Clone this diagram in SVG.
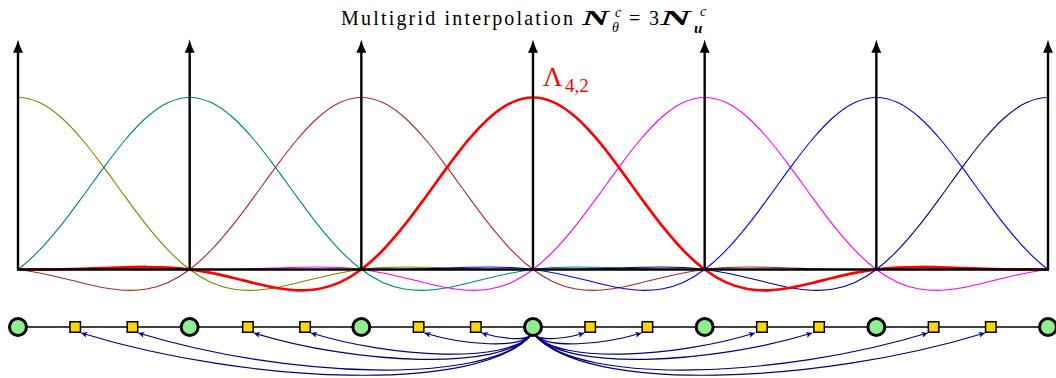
<svg xmlns="http://www.w3.org/2000/svg" width="1056" height="378" viewBox="0 0 1056 378">
<style>
.ax{stroke:#000;stroke-width:2.4;fill:none}
.ah{fill:#000}
.k{fill:none;stroke-width:1.1}
.kr{fill:none;stroke-width:2.7}
.ln{stroke:#000;stroke-width:1.3}
.cn{fill:#90EE90;stroke:#000;stroke-width:3}
.sq{fill:#FFD700;stroke:#000;stroke-width:1.5}
.ed{fill:none;stroke:#000080;stroke-width:1.2;marker-end:url(#m)}
.t{font-family:"Liberation Serif","DejaVu Serif",serif;fill:#000}
</style>
<defs>
<path id="kh" d="M0,-172 C7.15,-172 14.31,-170.19 21.46,-166.89 C28.61,-163.59 35.77,-158.41 42.92,-152.22 C50.07,-146.03 57.23,-138.10 64.38,-129.76 C71.53,-121.42 78.69,-111.70 85.84,-102.17 C92.99,-92.64 100.14,-82.25 107.29,-72.57 C114.44,-62.89 121.60,-52.96 128.75,-44.07 C135.90,-35.19 143.06,-26.61 150.21,-19.26 C157.36,-11.92 164.52,-5.36 171.67,0 C178.82,5.36 185.98,9.63 193.13,12.88 C200.28,16.13 207.44,18.17 214.59,19.49 C221.74,20.81 228.90,21.00 236.05,20.79 C243.20,20.58 250.36,19.46 257.51,18.25 C264.66,17.04 271.82,15.21 278.97,13.53 C286.12,11.86 293.28,9.88 300.43,8.20 C307.58,6.52 314.73,4.82 321.88,3.45 C329.03,2.08 336.19,0.90 343.34,0 C350.49,-0.90 357.65,-1.51 364.80,-1.93 C371.95,-2.35 379.11,-2.48 386.26,-2.52 C393.41,-2.57 400.57,-2.38 407.72,-2.20 C414.87,-2.03 422.03,-1.72 429.18,-1.47 C436.33,-1.23 443.49,-0.94 450.64,-0.73 C457.79,-0.53 464.95,-0.36 472.10,-0.24 C479.25,-0.12 486.40,-0.07 493.55,-0.03 C500.70,0.01 507.86,0 515.01,0"/>
<g id="ker"><use href="#kh"/><use href="#kh" transform="scale(-1,1)"/></g>
<path id="arr" d="M0,0 Q1.5,7 5,13.2 L-5,13.2 Q-1.5,7 0,0Z"/>
<marker id="m" viewBox="0 0 10 10" refX="10" refY="5" markerWidth="8" markerHeight="6" markerUnits="userSpaceOnUse" orient="auto"><path d="M0,0 L10,5 L0,10 L2.5,5Z" fill="#000080"/></marker>
<clipPath id="cp"><rect x="17" y="0" width="1032" height="300"/></clipPath>
</defs>
<rect width="1056" height="378" fill="#fff"/>

<g id="title" class="t">
<text font-size="20" x="341" y="25" textLength="232" lengthAdjust="spacing">Multigrid interpolation</text>
<text font-size="22" font-style="italic" font-weight="bold" x="582" y="25" textLength="27" lengthAdjust="spacingAndGlyphs">N</text>
<text font-size="14" font-style="italic" x="615" y="16.5">c</text>
<text font-size="14" font-style="italic" x="612" y="32">θ</text>
<text font-size="20" x="629" y="25">=</text>
<text font-size="20" x="649" y="25">3</text>
<text font-size="22" font-style="italic" font-weight="bold" x="660" y="25" textLength="31" lengthAdjust="spacingAndGlyphs">N</text>
<text font-size="14" font-style="italic" x="700" y="16">c</text>
<text font-size="15" font-style="italic" font-weight="bold" x="694" y="32.5">u</text>
</g>

<g id="kernels" clip-path="url(#cp)">
<use href="#ker" class="k" stroke="#808000" transform="translate(18,269.5)"/>
<use href="#ker" class="k" stroke="#008080" transform="translate(189.67,269.5)"/>
<use href="#ker" class="k" stroke="#A52A2A" transform="translate(361.33,269.5)"/>
<use href="#ker" class="k" stroke="#FF00FF" transform="translate(704.67,269.5)"/>
<use href="#ker" class="k" stroke="#0000FF" transform="translate(876.33,269.5)"/>
<use href="#ker" class="k" stroke="#000080" transform="translate(1048,269.5)"/>
<use href="#ker" class="kr" stroke="#FF0000" transform="translate(533,269.5)"/>
</g>

<g id="axes">
<line class="ax" x1="17" y1="269.5" x2="1049" y2="269.5"/>
<line class="ax" x1="18" y1="269.5" x2="18" y2="50"/>
<line class="ax" x1="189.67" y1="269.5" x2="189.67" y2="50"/>
<line class="ax" x1="361.33" y1="269.5" x2="361.33" y2="50"/>
<line class="ax" x1="533" y1="269.5" x2="533" y2="50"/>
<line class="ax" x1="704.67" y1="269.5" x2="704.67" y2="50"/>
<line class="ax" x1="876.33" y1="269.5" x2="876.33" y2="50"/>
<line class="ax" x1="1048" y1="269.5" x2="1048" y2="50"/>
<use href="#arr" class="ah" x="18" y="39.5"/>
<use href="#arr" class="ah" x="189.67" y="39.5"/>
<use href="#arr" class="ah" x="361.33" y="39.5"/>
<use href="#arr" class="ah" x="533" y="39.5"/>
<use href="#arr" class="ah" x="704.67" y="39.5"/>
<use href="#arr" class="ah" x="876.33" y="39.5"/>
<use href="#arr" class="ah" x="1048" y="39.5"/>
</g>

<g id="label" class="t">
<text font-size="27" x="543" y="86" fill="#FF0000">Λ</text>
<text font-size="19" x="565" y="92" fill="#FF0000">4,2</text>
</g>

<line id="grid-line" class="ln" x1="18" y1="327" x2="1048" y2="327"/>

<g id="connectors">
<path class="ed" d="M531,335 C480.17,393.47 248.53,384.28 81.2,333"/>
<path class="ed" d="M531,335 C486.64,386.04 284.45,377.76 138.4,333"/>
<path class="ed" d="M531,335 C499.69,371.02 356.98,364.59 253.9,333"/>
<path class="ed" d="M531,335 C506.15,363.59 392.9,358.07 311.1,333"/>
<path class="ed" d="M531,335 C518.98,348.83 464.18,345.13 424.6,333"/>
<path class="ed" d="M531,335 C525.44,341.4 500.1,338.61 481.8,333"/>
<path class="ed" d="M535,335 C585.83,393.47 817.47,384.28 984.8,333"/>
<path class="ed" d="M535,335 C579.36,386.04 781.55,377.76 927.6,333"/>
<path class="ed" d="M535,335 C566.31,371.02 709.02,364.59 812.1,333"/>
<path class="ed" d="M535,335 C559.85,363.59 673.1,358.07 754.9,333"/>
<path class="ed" d="M535,335 C547.02,348.83 601.82,345.13 641.4,333"/>
<path class="ed" d="M535,335 C540.56,341.4 565.9,338.61 584.2,333"/>
</g>

<g id="c0"><circle class="cn" cx="18" cy="327" r="8.5"/></g>
<g id="s1"><rect class="sq" x="69.95" y="321.75" width="10.5" height="10.5"/></g>
<g id="s2"><rect class="sq" x="127.15" y="321.75" width="10.5" height="10.5"/></g>
<g id="c1"><circle class="cn" cx="189.67" cy="327" r="8.5"/></g>
<g id="s4"><rect class="sq" x="242.65" y="321.75" width="10.5" height="10.5"/></g>
<g id="s5"><rect class="sq" x="299.85" y="321.75" width="10.5" height="10.5"/></g>
<g id="c2"><circle class="cn" cx="361.33" cy="327" r="8.5"/></g>
<g id="s7"><rect class="sq" x="413.35" y="321.75" width="10.5" height="10.5"/></g>
<g id="s8"><rect class="sq" x="470.55" y="321.75" width="10.5" height="10.5"/></g>
<g id="c3"><circle class="cn" cx="533" cy="327" r="8.5"/></g>
<g id="s10"><rect class="sq" x="584.95" y="321.75" width="10.5" height="10.5"/></g>
<g id="s11"><rect class="sq" x="642.15" y="321.75" width="10.5" height="10.5"/></g>
<g id="c4"><circle class="cn" cx="704.67" cy="327" r="8.5"/></g>
<g id="s13"><rect class="sq" x="756.65" y="321.75" width="10.5" height="10.5"/></g>
<g id="s14"><rect class="sq" x="813.85" y="321.75" width="10.5" height="10.5"/></g>
<g id="c5"><circle class="cn" cx="876.33" cy="327" r="8.5"/></g>
<g id="s16"><rect class="sq" x="928.35" y="321.75" width="10.5" height="10.5"/></g>
<g id="s17"><rect class="sq" x="985.55" y="321.75" width="10.5" height="10.5"/></g>
<g id="c6"><circle class="cn" cx="1048" cy="327" r="8.5"/></g>
</svg>
